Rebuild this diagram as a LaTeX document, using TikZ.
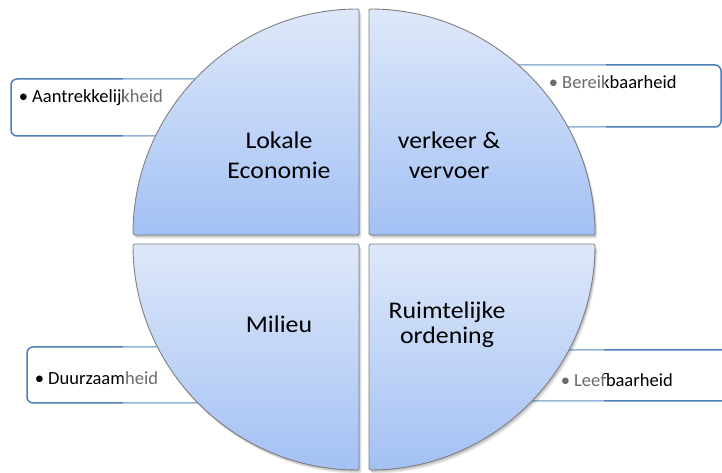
\documentclass[tikz,border=0pt]{standalone}
\usepackage{fontspec}
\setmainfont{Carlito}
\newfontfamily\widelabel[FakeStretch=1.08]{Carlito}
\usetikzlibrary{calc}
\begin{document}
\begin{tikzpicture}[x=1bp,y=1bp,
  quadrant/.style={draw=black!50, line width=0.9bp, rounded corners=1.5bp,
    top color=qtop, bottom color=qbot},
  qshadow/.style={fill=black, opacity=0.07, rounded corners=2bp},
  bulletbox/.style={draw=boxblue, line width=1.5bp, fill=white, rounded corners=6bp},
  fade/.style={fill=white, opacity=0.42},
  label/.style={inner sep=0pt, align=center, font=\widelabel\fontsize{24}{30}\selectfont},
  item/.style={inner sep=0pt, anchor=base west, font=\fontsize{18.6}{22}\selectfont}]
\definecolor{qtop}{HTML}{DEE8FA}
\definecolor{qbot}{HTML}{A3C1F4}
\definecolor{boxblue}{HTML}{4A7EBB}
\useasboundingbox (0,0) rectangle (722,473);
\clip (0,0) rectangle (722,473);
\fill[white] (0,0) rectangle (722,473);

% callout boxes behind the circle
\draw[bulletbox] (11,337) rectangle (320,394);
\draw[bulletbox] (410,346) rectangle (721,408);
\draw[bulletbox] (27,70) rectangle (320,126);
\draw[bulletbox] (420,72) rectangle (760,123);

\node[item] (aantrek) at (32,370) {\llap{•\hspace{4bp}}Aantrekkelijkheid};
\node[item] (bereik) at (562,384) {\llap{•\hspace{4bp}}Bereikbaarheid};
\node[item] (duurzaam) at (48,88) {\llap{•\hspace{4bp}}Duurzaamheid};
\node[item] (leef) at (574,86) {\llap{•\hspace{4bp}}Leefbaarheid};

% faded parts of the boxes
\fill[fade] (123,335) rectangle (320,396);
\fill[fade] (410,344) rectangle (606,410);
\fill[fade] (123,68) rectangle (320,128);
\fill[fade] (410,70) rectangle (604,125);

% soft shadows of the four segments
\foreach \d in {1,2,3,4}{
  \fill[qshadow] ($(359,238)+(0.6*\d,-0.9*\d)$) -- ++(-226,0) arc[start angle=180, end angle=90, radius=226] -- cycle;
  \fill[qshadow] ($(369,238)+(0.6*\d,-0.9*\d)$) -- ++(0,226) arc[start angle=90, end angle=0, radius=226] -- cycle;
  \fill[qshadow] ($(359,229)+(0.6*\d,-0.9*\d)$) -- ++(0,-226) arc[start angle=270, end angle=180, radius=226] -- cycle;
  \fill[qshadow] ($(369,229)+(0.6*\d,-0.9*\d)$) -- ++(226,0) arc[start angle=0, end angle=-90, radius=226] -- cycle;
}

% the four segments of the circle
\draw[quadrant] (359,238) -- (133,238) arc[start angle=180, end angle=90, radius=226] -- cycle;
\draw[quadrant] (369,238) -- (369,464) arc[start angle=90, end angle=0, radius=226] -- cycle;
\draw[quadrant] (359,229) -- (359,3) arc[start angle=270, end angle=180, radius=226] -- cycle;
\draw[quadrant] (369,229) -- (595,229) arc[start angle=0, end angle=-90, radius=226] -- cycle;

\node[label] (economie) at (279,318) {Lokale\\Economie};
\node[label] (verkeer) at (449,318) {verkeer \&\\vervoer};
\node[label] (milieu) at (279,149) {Milieu};
\node[label, font=\widelabel\fontsize{24}{25}\selectfont] (ordening) at (447,148) {Ruimtelijke\\ordening};
\end{tikzpicture}
\end{document}
